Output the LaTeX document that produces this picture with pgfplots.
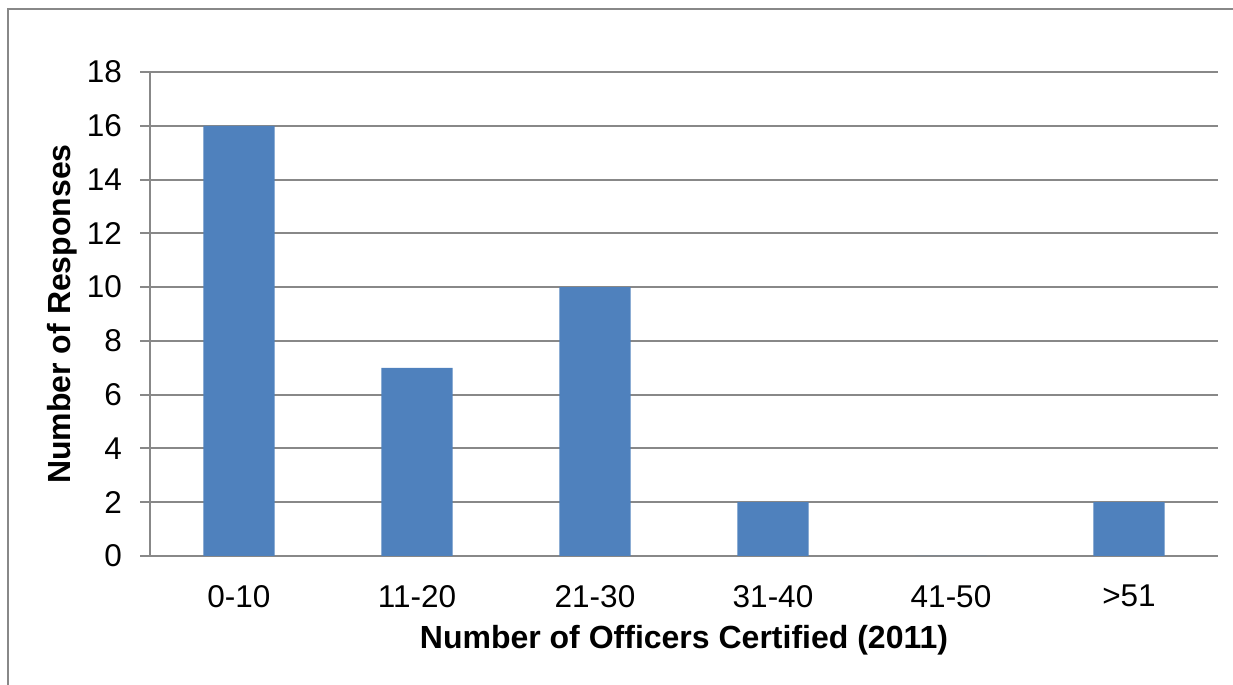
\documentclass[border=0pt]{standalone}
\usepackage{pgfplots}
\pgfplotsset{compat=1.18}
\usepackage{fontspec}
\setmainfont{Liberation Sans}
\definecolor{barblue}{HTML}{4F81BD}
\definecolor{gridgray}{HTML}{888888}
\begin{document}
\begin{tikzpicture}
\path[use as bounding box] (0,0) rectangle (616.5pt,342.5pt);
\draw[gridgray, line width=1pt] (4pt,0) -- (4pt,338pt) -- (616.5pt,338pt);
\begin{axis}[
  at={(75pt,64.5pt)}, anchor=south west,
  scale only axis, width=534pt, height=242pt,
  xmin=-0.5, xmax=5.5, ymin=0, ymax=18,
  ytick={0,2,...,18},
  xtick=data,
  xticklabels={0-10,11-20,21-30,31-40,41-50,>51},
  axis x line*=bottom, axis y line*=left,
  axis line style={gridgray, line width=1pt, -},
  ymajorgrids, grid style={gridgray, line width=1pt},
  y tick style={gridgray, line width=1pt},
  x tick style={draw=none},
  tick align=outside, major tick length=5pt,
  ticklabel style={font=\fontsize{15.75}{18}\selectfont},
  yticklabel style={xshift=-5.5pt},
  xticklabel style={yshift=-6pt},
  /pgf/number format/assume math mode=true,
  xlabel={Number of Officers Certified (2011)},
  ylabel={Number of Responses},
  label style={font=\fontsize{16}{19}\selectfont\bfseries},
  xlabel style={at={(rel axis cs:0.5,-0.1736)}, anchor=center},
  ylabel style={at={(rel axis cs:-0.0824,0.5)}, anchor=center},
  clip=false,
]
\addplot[ybar, bar width=0.4, fill=barblue, draw=none] coordinates {
  (0,16) (1,7) (2,10) (3,2) (4,0) (5,2)
};
\end{axis}
\end{tikzpicture}
\end{document}
